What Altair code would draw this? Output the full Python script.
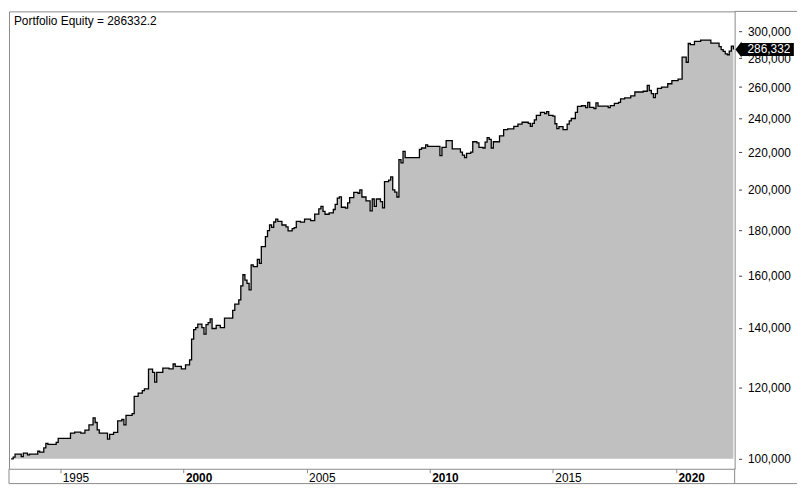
import altair as alt
import pandas as pd

# ---- data ----
months = [
    "1993-01", "1993-02", "1993-03", "1993-06", "1993-07", "1993-09", "1993-10",
    "1994-02", "1994-03", "1994-05", "1994-06", "1994-07", "1994-11", "1994-12",
    "1995-06", "1995-08", "1995-11",
    "1996-01", "1996-03", "1996-05", "1996-06", "1996-07", "1996-08", "1996-12",
    "1997-01", "1997-03", "1997-05", "1997-07", "1997-08", "1997-09", "1997-12",
    "1998-01", "1998-03", "1998-05", "1998-06", "1998-08", "1998-10", "1998-11", "1998-12",
    "1999-03", "1999-06", "1999-08", "1999-09", "1999-12",
    "2000-02", "2000-04", "2000-05", "2000-06", "2000-07", "2000-08", "2000-10", "2000-11", "2000-12",
    "2001-01", "2001-02", "2001-03", "2001-05", "2001-07", "2001-09",
    "2002-01", "2002-02", "2002-04", "2002-05", "2002-06", "2002-07", "2002-08", "2002-09", "2002-10", "2002-11",
    "2003-01", "2003-02", "2003-03", "2003-05", "2003-06", "2003-07", "2003-08", "2003-09", "2003-10", "2003-11",
    "2004-01", "2004-03", "2004-04", "2004-06", "2004-07", "2004-08", "2004-10", "2004-12",
    "2005-03", "2005-05", "2005-07", "2005-08", "2005-09", "2005-10", "2005-12",
    "2006-02", "2006-03", "2006-04", "2006-05", "2006-06", "2006-08", "2006-09", "2006-10", "2006-12",
    "2007-02", "2007-03", "2007-04", "2007-06", "2007-08", "2007-09", "2007-10", "2007-11",
    "2008-01", "2008-02", "2008-03", "2008-05", "2008-06", "2008-07", "2008-08", "2008-09", "2008-10", "2008-11", "2008-12",
    "2009-01", "2009-08", "2009-09", "2009-11", "2009-12",
    "2010-06", "2010-07", "2010-09", "2010-12",
    "2011-04", "2011-05", "2011-06", "2011-07", "2011-09", "2011-10", "2011-12",
    "2012-01", "2012-03", "2012-04", "2012-05", "2012-06", "2012-07", "2012-08", "2012-11",
    "2013-01", "2013-03", "2013-06", "2013-08", "2013-10",
    "2014-01", "2014-02", "2014-03", "2014-04", "2014-05", "2014-07", "2014-09", "2014-10", "2014-11",
    "2015-01", "2015-02", "2015-03", "2015-04", "2015-06", "2015-08", "2015-09", "2015-10", "2015-12",
    "2016-01", "2016-03", "2016-05", "2016-06", "2016-07", "2016-09", "2016-10", "2016-11",
    "2017-04", "2017-05", "2017-07", "2017-09", "2017-10", "2017-12",
    "2018-03", "2018-05", "2018-09", "2018-11", "2018-12",
    "2019-01", "2019-02", "2019-03", "2019-04", "2019-06", "2019-09", "2019-11",
    "2020-02", "2020-04", "2020-06", "2020-07", "2020-08", "2020-10",
    "2021-01", "2021-06", "2021-10", "2021-11", "2021-12",
    "2022-01", "2022-02", "2022-03", "2022-04", "2022-05",
]
equity = [
    100000, 100430, 101200, 100590, 101460, 101020, 101200,
    101970, 101720, 102840, 104070, 103800, 104340, 105400,
    106840, 107100, 106840,
    107650, 109110, 111080, 109790, 107740, 106840, 105200,
    106500, 107020, 110240, 110640, 109110, 111840, 112330,
    117440, 118420, 119190, 119700, 125930, 124900, 121800, 124900,
    126250, 126000, 127600, 126800, 126000,
    127300, 128970, 136000, 139400, 140100, 141400, 140100, 137800, 141200,
    141900, 143300, 139800, 140900, 140100, 143600,
    146460, 148800, 150500, 156000, 160500, 158300, 157000, 154400, 164600, 163900,
    167000, 165300, 172500, 177000, 179800, 182400, 181300, 183800, 185200, 184100,
    182400, 181500, 179700, 180700, 181200, 184100, 183700, 185200,
    184500, 187600, 190100, 191300, 188900, 187500, 188200,
    189800, 192300, 195400, 196100, 190900, 190500, 193100, 195700, 198300,
    197900, 199600, 196000, 194100, 189100, 195000, 191300, 195000,
    193700, 190600, 203900, 204700, 206400, 199600, 198500, 196000, 215800, 214000, 220400,
    216900, 221500, 222300, 224100, 223200,
    218000, 222600, 226500, 221800,
    220000, 218300, 216900, 219300, 220000, 225900, 225200,
    222600, 222300, 225700, 228300, 227300, 222300, 225900, 229400,
    233100, 233500, 235000, 236400, 237500,
    236800, 235000, 236800, 239000, 241700, 243600, 242800, 244100, 241700,
    241300, 236600, 233700, 234800, 233100, 236400, 238400, 239800, 243600,
    247400, 247800, 246600, 250000, 246800, 246000, 249600, 247600,
    246600, 247900, 249300, 249900, 252200, 252800,
    254100, 256700, 257200, 261100, 257700,
    255600, 253000, 255600, 259100, 259900, 262200, 264300,
    265300, 280800, 277100, 290800, 290000, 292400,
    293300, 291100, 288500, 286300, 285000,
    283100, 282500, 285200, 288900, 286332.2,
]
y_ticks = [100000, 120000, 140000, 160000, 180000, 200000,
           220000, 240000, 260000, 280000, 300000]
x_tick_years = [1995, 2000, 2005, 2010, 2015, 2020]
start_capital = 100000
last_value = 286332.2
title_text = "Portfolio Equity = 286332.2"

# ---- tables ----
df = pd.DataFrame({"date": [m + "-01" for m in months], "equity": equity})
df_last = pd.DataFrame({"v": [last_value], "lbl": [f"{last_value:,.0f}"]})
df_title = pd.DataFrame({"t": [title_text]})

W, H = 733, 462
FRAME = "#8a8a8a"
FONT = "Liberation Sans"

x_scale = alt.Scale(domain=[alt.DateTime(year=1992, month=12, date=1),
                            alt.DateTime(year=2022, month=5, date=20)])
y_scale = alt.Scale(type="log", domain=[97487, 315800], nice=False, zero=False)

x_axis = alt.Axis(
    values=[alt.DateTime(year=y, month=1, date=1) for y in x_tick_years],
    format="%Y", domain=False, grid=False, ticks=True, tickSize=4,
    tickColor=FRAME, labelAlign="left", labelBaseline="top", labelPadding=0,
    labelOffset=2, labelFont=FONT, labelFontSize=12, labelColor="black",
    labelFontWeight={"condition": {"test": "year(datum.value) % 10 == 0",
                                   "value": "bold"}, "value": "normal"},
    labelFlush=False, labelOverlap=False, title=None,
)
y_axis = alt.Axis(
    orient="right", values=y_ticks, format=",d", domain=False, grid=False,
    tickSize=3, tickColor="#404040", offset=4, labelPadding=6,
    labelFont=FONT, labelFontSize=12, labelColor="black",
    labelFlush=False, labelOverlap=False, title=None,
)

base = alt.Chart(df)
area = base.mark_area(interpolate="step-after", color="#c0c0c0").encode(
    x=alt.X("date:T", scale=x_scale, axis=x_axis),
    y=alt.Y("equity:Q", scale=y_scale, axis=y_axis),
    y2=alt.datum(start_capital),
)
line = base.mark_line(interpolate="step-after", color="black",
                      strokeWidth=1.3).encode(
    x=alt.X("date:T"), y=alt.Y("equity:Q"),
)

title = alt.Chart(df_title).mark_text(
    align="left", baseline="alphabetic", font=FONT, fontSize=12, color="black"
).encode(x=alt.value(5), y=alt.value(14), text="t:N")

tag_path = "M-1,0L-0.79,-0.27L-0.79,-0.22L1,-0.22L1,0.22L-0.79,0.22L-0.79,0.27Z"
tag = alt.Chart(df_last).mark_point(
    shape=tag_path, size=59 * 59, filled=True, color="black",
    opacity=1, strokeWidth=0
).encode(x=alt.value(763.3), y=alt.Y("v:Q"))
tag_text = alt.Chart(df_last).mark_text(
    align="left", baseline="middle", font=FONT, fontSize=12, color="white"
).encode(x=alt.value(746), y=alt.Y("v:Q"), text="lbl:N")

# frame of the date strip and the price panel
frame_df = pd.DataFrame({
    "x": [0, 0, 733, 733],
    "x2": [796, 0, 733, 796],
    "y": [477, 462, 462, 0],
    "y2": [477, 477, 477, 0],
})
frame = alt.Chart(frame_df).mark_rule(color=FRAME, strokeWidth=1).encode(
    x=alt.X("x:Q", scale=None), x2="x2:Q",
    y=alt.Y("y:Q", scale=None), y2="y2:Q",
)

chart = alt.layer(area, line, title, tag, tag_text, frame).properties(
    width=W, height=H, padding=0, background="white"
).configure_view(stroke=FRAME, strokeWidth=1)

chart.save("out.html", embed_options={"renderer": "svg", "actions": False})
